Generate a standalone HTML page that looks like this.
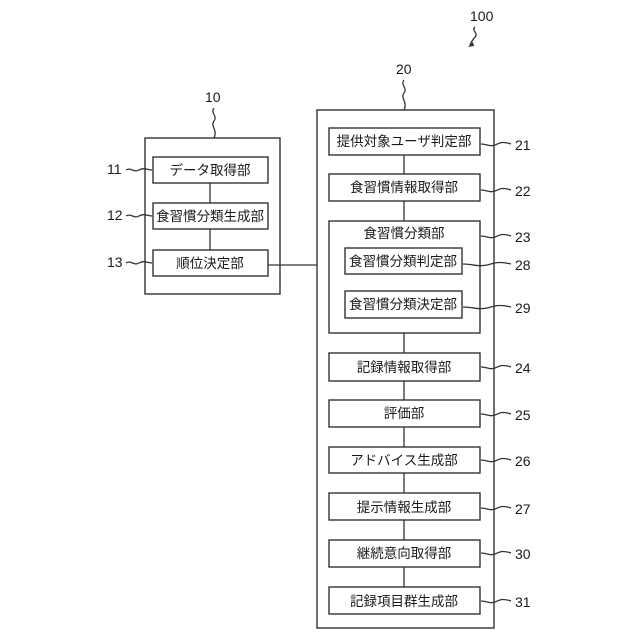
<!DOCTYPE html>
<html><head><meta charset="utf-8"><style>
html,body{margin:0;padding:0;background:#fff}
svg{display:block}
text{font-family:"Liberation Sans","Noto Sans CJK JP",sans-serif;fill:#1a1a1a}
.b{fill:#fff;stroke:#333;stroke-width:1.4}
.l{stroke:#333;stroke-width:1.3;fill:none}
.t{font-size:13.5px;text-anchor:middle}
.n{font-size:14px}
</style></head><body>
<svg width="640" height="640" viewBox="0 0 640 640">
<text class="n" x="470" y="21">100</text>
<path class="l" d="M475 27 c-4 4 4 6 0 10 c-3 4 -4 5 -5 8"/>
<path d="M468 47 l5 -5 l1 4 z" fill="#333"/>
<text class="n" x="205" y="102">10</text>
<path class="l" d="M214 108 c-4 5 4 8 0 13 c-4 5 4 9 0 17"/>
<rect class="b" x="145" y="138" width="135" height="156"/>
<line class="l" x1="210" y1="183" x2="210" y2="203"/>
<line class="l" x1="210" y1="229" x2="210" y2="250"/>
<rect class="b" x="153" y="157" width="115" height="26"/>
<text class="t" x="210" y="175">データ取得部</text>
<rect class="b" x="153" y="203" width="115" height="26"/>
<text class="t" x="210" y="221">食習慣分類生成部</text>
<rect class="b" x="153" y="250" width="115" height="26"/>
<text class="t" x="210" y="268">順位決定部</text>
<text class="n" x="107" y="174">11</text>
<path class="l" d="M126 170 c5 -3 8 3 13 0 c5 -3 8 0 13 0"/>
<text class="n" x="107" y="220">12</text>
<path class="l" d="M126 216 c5 -3 8 3 13 0 c5 -3 8 0 13 0"/>
<text class="n" x="107" y="267">13</text>
<path class="l" d="M126 263 c5 -3 8 3 13 0 c5 -3 8 0 13 0"/>
<line class="l" x1="268" y1="265" x2="317" y2="265"/>
<text class="n" x="396" y="74">20</text>
<path class="l" d="M404 80 c-4 5 4 8 0 13 c-4 5 4 9 0 17"/>
<rect class="b" x="317" y="110" width="177" height="518"/>
<line class="l" x1="404" y1="140" x2="404" y2="600"/>
<rect class="b" x="329" y="128" width="151" height="27"/>
<text class="t" x="404" y="146">提供対象ユーザ判定部</text>
<rect class="b" x="329" y="174" width="151" height="27"/>
<text class="t" x="404" y="192">食習慣情報取得部</text>
<rect class="b" x="329" y="221" width="151" height="112"/>
<text class="t" x="404" y="238">食習慣分類部</text>
<rect class="b" x="345" y="248" width="117" height="26"/>
<text class="t" x="403" y="266">食習慣分類判定部</text>
<rect class="b" x="345" y="291" width="117" height="27"/>
<text class="t" x="403" y="309">食習慣分類決定部</text>
<rect class="b" x="329" y="353" width="151" height="28"/>
<text class="t" x="404" y="372">記録情報取得部</text>
<rect class="b" x="329" y="400" width="151" height="27"/>
<text class="t" x="404" y="418">評価部</text>
<rect class="b" x="329" y="447" width="151" height="26"/>
<text class="t" x="404" y="465">アドバイス生成部</text>
<rect class="b" x="329" y="493" width="151" height="27"/>
<text class="t" x="404" y="512">提示情報生成部</text>
<rect class="b" x="329" y="540" width="151" height="27"/>
<text class="t" x="404" y="558">継続意向取得部</text>
<rect class="b" x="329" y="587" width="151" height="27"/>
<text class="t" x="404" y="606">記録項目群生成部</text>
<text class="n" x="515" y="150">21</text>
<text class="n" x="515" y="196">22</text>
<text class="n" x="515" y="242">23</text>
<text class="n" x="515" y="270">28</text>
<text class="n" x="515" y="313">29</text>
<text class="n" x="515" y="373">24</text>
<text class="n" x="515" y="420">25</text>
<text class="n" x="515" y="466">26</text>
<text class="n" x="515" y="514">27</text>
<text class="n" x="515" y="559">30</text>
<text class="n" x="515" y="607">31</text>
<path class="l" d="M481 144 c6 0 8 3 14 1 c5 -2 7 -4 16 -1"/>
<path class="l" d="M481 190 c6 0 8 3 14 1 c5 -2 7 -4 16 -1"/>
<path class="l" d="M481 236 c6 0 8 3 14 1 c5 -2 7 -4 16 -1"/>
<path class="l" d="M463 264 c10 0 14 3 24 1 c8 -2 12 -4 24 -1"/>
<path class="l" d="M463 307 c10 0 14 3 24 1 c8 -2 12 -4 24 -1"/>
<path class="l" d="M481 367 c6 0 8 3 14 1 c5 -2 7 -4 16 -1"/>
<path class="l" d="M481 414 c6 0 8 3 14 1 c5 -2 7 -4 16 -1"/>
<path class="l" d="M481 460 c6 0 8 3 14 1 c5 -2 7 -4 16 -1"/>
<path class="l" d="M481 508 c6 0 8 3 14 1 c5 -2 7 -4 16 -1"/>
<path class="l" d="M481 553 c6 0 8 3 14 1 c5 -2 7 -4 16 -1"/>
<path class="l" d="M481 601 c6 0 8 3 14 1 c5 -2 7 -4 16 -1"/>
</svg>
</body></html>
